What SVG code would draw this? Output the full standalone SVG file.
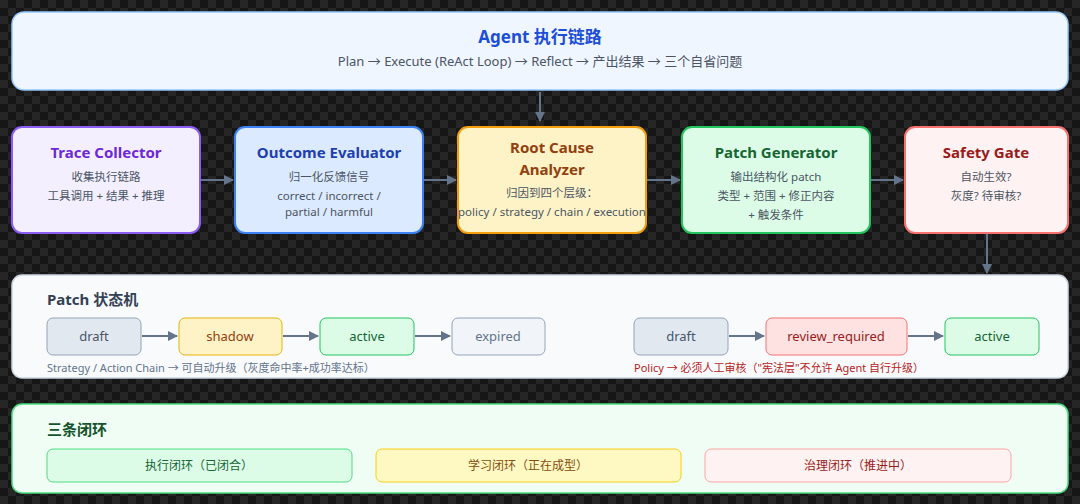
<svg xmlns="http://www.w3.org/2000/svg" width="1080" height="504" viewBox="0 0 1080 504">
<defs>
<marker id="ah" viewBox="0 0 10 10" refX="9" refY="5" markerWidth="5" markerHeight="5" orient="auto"><path d="M0,0L10,5L0,10z" fill="#64748b"/></marker>
<pattern id="chk" width="16" height="16" patternUnits="userSpaceOnUse"><rect width="16" height="16" fill="#161616"/><rect width="8" height="8" fill="#262626"/><rect x="8" y="8" width="8" height="8" fill="#262626"/></pattern>
</defs>
<style>
text{font-family:"Noto Sans","Noto Sans CJK SC",sans-serif;text-anchor:middle}
.t{font-size:15px;font-weight:bold}
.s{font-size:11.5px;fill:#4b5563}
.st{font-size:13px}
.c{stroke:#64748b;stroke-width:2;fill:none;marker-end:url(#ah)}
</style>
<rect width="1080" height="504" fill="url(#chk)"/>
<g id="header"><rect x="12" y="12" width="1056" height="78" rx="12" fill="#eff6ff" stroke="#93c5fd" stroke-width="1.5"/>
<text x="540" y="43" font-size="17" font-weight="bold" fill="#1d4ed8">Agent 执行链路</text>
<text x="540" y="66" font-size="13" fill="#4b5563">Plan → Execute (ReAct Loop) → Reflect → 产出结果 → 三个自省问题</text></g>
<g id="trace"><rect x="12" y="127" width="188" height="106" rx="10" fill="#f3efff" stroke="#8b5cf6" stroke-width="2"/>
<text class="t" x="106" y="158" fill="#6d28d9">Trace Collector</text><text class="s" x="106" y="181">收集执行链路</text><text class="s" x="106" y="200">工具调用 + 结果 + 推理</text></g>
<g id="outcome"><rect x="235" y="127" width="188" height="106" rx="10" fill="#dbeafe" stroke="#3b82f6" stroke-width="2"/>
<text class="t" x="329" y="158" fill="#1e40af">Outcome Evaluator</text><text class="s" x="329" y="181">归一化反馈信号</text><text class="s" x="329" y="200">correct / incorrect /</text><text class="s" x="329" y="216">partial / harmful</text></g>
<g id="root"><rect x="458" y="127" width="188" height="106" rx="10" fill="#fef3c7" stroke="#f59e0b" stroke-width="2"/>
<text class="t" x="552" y="153" fill="#92400e">Root Cause</text><text class="t" x="552" y="175" fill="#92400e">Analyzer</text><text class="s" x="552" y="197">归因到四个层级：</text><text class="s" x="552" y="216">policy / strategy / chain / execution</text></g>
<g id="patch"><rect x="682" y="127" width="188" height="106" rx="10" fill="#dcfce7" stroke="#22c55e" stroke-width="2"/>
<text class="t" x="776" y="158" fill="#166534">Patch Generator</text><text class="s" x="776" y="181">输出结构化 patch</text><text class="s" x="776" y="200">类型 + 范围 + 修正内容</text><text class="s" x="776" y="219">+ 触发条件</text></g>
<g id="safety"><rect x="905" y="127" width="163" height="106" rx="10" fill="#fef2f2" stroke="#f87171" stroke-width="2"/>
<text class="t" x="986" y="158" fill="#991b1b">Safety Gate</text><text class="s" x="986" y="181">自动生效?</text><text class="s" x="986" y="200">灰度? 待审核?</text></g>
<g id="statemachine"><rect x="12" y="275" width="1056" height="103" rx="10" fill="#f8fafc" stroke="#cbd5e1" stroke-width="1.5"/>
<text x="47" y="305" font-size="15" font-weight="bold" fill="#334155" style="text-anchor:start">Patch 状态机</text>
<rect x="47" y="318" width="94" height="37" rx="6" fill="#e2e8f0" stroke="#94a3b8"/><text class="st" x="94" y="341" fill="#475569">draft</text>
<rect x="179" y="318" width="103" height="37" rx="6" fill="#fef3c7" stroke="#eab308"/><text class="st" x="230" y="341" fill="#92400e">shadow</text>
<rect x="320" y="318" width="94" height="37" rx="6" fill="#dcfce7" stroke="#22c55e"/><text class="st" x="367" y="341" fill="#166534">active</text>
<rect x="452" y="318" width="93" height="37" rx="6" fill="#f1f5f9" stroke="#94a3b8"/><text class="st" x="498" y="341" fill="#64748b">expired</text>
<rect x="634" y="318" width="94" height="37" rx="6" fill="#e2e8f0" stroke="#94a3b8"/><text class="st" x="681" y="341" fill="#475569">draft</text>
<rect x="766" y="318" width="141" height="37" rx="6" fill="#fee2e2" stroke="#f87171"/><text class="st" x="836" y="341" fill="#991b1b">review_required</text>
<rect x="945" y="318" width="94" height="37" rx="6" fill="#dcfce7" stroke="#22c55e"/><text class="st" x="992" y="341" fill="#166534">active</text>
<text x="47" y="372" font-size="11" fill="#64748b" style="text-anchor:start">Strategy / Action Chain → 可自动升级（灰度命中率+成功率达标）</text>
<text x="634" y="372" font-size="11" fill="#b91c1c" style="text-anchor:start">Policy → 必须人工审核（"宪法层"不允许 Agent 自行升级）</text></g>
<g id="loops"><rect x="12" y="404" width="1056" height="89" rx="10" fill="#f0fdf4" stroke="#4ade80" stroke-width="1.5"/>
<text x="47" y="435" font-size="15" font-weight="bold" fill="#14532d" style="text-anchor:start">三条闭环</text>
<rect x="47" y="449" width="305" height="33" rx="6" fill="#dcfce7" stroke="#4ade80"/><text x="199" y="470" font-size="12" fill="#166534">执行闭环（已闭合）</text>
<rect x="376" y="449" width="305" height="33" rx="6" fill="#fef9c3" stroke="#facc15"/><text x="528" y="470" font-size="12" fill="#854d0e">学习闭环（正在成型）</text>
<rect x="705" y="449" width="306" height="33" rx="6" fill="#fef2f2" stroke="#fca5a5"/><text x="858" y="470" font-size="12" fill="#991b1b">治理闭环（推进中）</text></g>
<g id="connectors">
<path class="c" d="M540,92V121"/><path class="c" d="M201,180H233"/><path class="c" d="M424,180H456"/><path class="c" d="M647,180H680"/><path class="c" d="M871,180H903"/><path class="c" d="M987,234V273"/>
<path class="c" d="M142,336H177"/><path class="c" d="M283,336H318"/><path class="c" d="M415,336H450"/><path class="c" d="M729,336H764"/><path class="c" d="M908,336H943"/>
</g>
</svg>
